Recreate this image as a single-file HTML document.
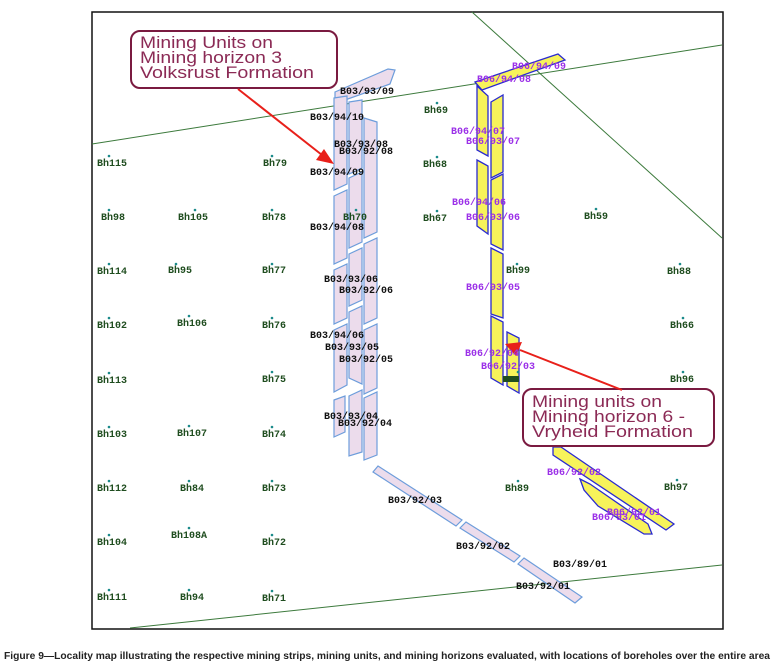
<!DOCTYPE html>
<html><head><meta charset="utf-8"><style>
html,body{margin:0;padding:0;background:#fff;width:774px;height:670px;overflow:hidden}
svg{display:block}
.b{font-family:"Liberation Mono",monospace;font-weight:bold;font-size:10px;fill:#111}
.g{font-family:"Liberation Mono",monospace;font-weight:bold;font-size:10px;fill:#1f4d1f}
.p{font-family:"Liberation Mono",monospace;font-weight:bold;font-size:10px;fill:#9b30e8}
.c{font-family:"Liberation Sans",sans-serif;font-size:16.5px;fill:#8b2a55}
.pk{fill:#ecdcec;stroke:#6d9ddb;stroke-width:1.2}
.y{fill:#f7f35a;stroke:#2a2ad0;stroke-width:1.3}
</style></head><body>
<svg width="774" height="670" xmlns="http://www.w3.org/2000/svg">
<rect x="92" y="12" width="631" height="617" fill="#fff" stroke="#111" stroke-width="1.5"/>
<line x1="92" y1="144" x2="722" y2="45" stroke="#3c7a3c" stroke-width="1"/>
<line x1="472" y1="12" x2="722" y2="238" stroke="#3c7a3c" stroke-width="1"/>
<line x1="130" y1="628" x2="722" y2="565" stroke="#3c7a3c" stroke-width="1"/>
<polygon class="pk" points="335,92 388,69 395,70 390,84 345,100 335,100"/>
<polygon class="pk" points="334,98 347,96 347,184 334,190"/>
<polygon class="pk" points="334,196 347,190 347,258 334,264"/>
<polygon class="pk" points="334,270 347,264 347,318 334,324"/>
<polygon class="pk" points="334,330 347,324 347,385 334,392"/>
<polygon class="pk" points="334,400 345,396 345,432 334,437"/>
<polygon class="pk" points="349,102 362,100 362,168 349,174"/>
<polygon class="pk" points="349,178 362,172 362,242 349,248"/>
<polygon class="pk" points="349,254 362,248 362,300 349,306"/>
<polygon class="pk" points="349,312 362,306 362,384 349,378"/>
<polygon class="pk" points="349,396 362,390 362,452 349,456"/>
<polygon class="pk" points="364,118 377,122 377,232 364,238"/>
<polygon class="pk" points="364,244 377,238 377,318 364,324"/>
<polygon class="pk" points="364,330 377,324 377,388 364,394"/>
<polygon class="pk" points="364,398 377,392 377,455 364,460"/>
<polygon class="pk" points="378,466 462,520 456,526 373,472"/>
<polygon class="pk" points="466,522 520,556 514,562 460,528"/>
<polygon class="pk" points="524,558 582,597 575,603 518,564"/>
<polygon class="y" points="475,82 558,54 565,60 482,90"/>
<polygon class="y" points="477,86 488,96 488,156 477,150"/>
<polygon class="y" points="477,160 488,166 488,234 477,226"/>
<polygon class="y" points="491,102 503,95 503,172 491,178"/>
<polygon class="y" points="491,180 503,174 503,250 491,244"/>
<polygon class="y" points="491,248 503,254 503,318 491,314"/>
<polygon class="y" points="491,316 503,322 503,385 491,378"/>
<polygon class="y" points="507,332 519,338 519,393 507,386"/>
<rect x="503" y="376" width="16" height="6" fill="#1f4d1f"/>
<polygon class="y" points="553,447 561,447 674,524 666,530 553,455"/>
<polygon class="y" points="580,479 590,484 648,524 652,534 644,534 598,506 584,490"/>
<rect x="131" y="31" width="206" height="57" rx="9" fill="#fff" stroke="#7a1a40" stroke-width="2"/>
<text class="c" x="140" y="48" textLength="133" lengthAdjust="spacingAndGlyphs">Mining Units on</text>
<text class="c" x="140" y="63" textLength="142" lengthAdjust="spacingAndGlyphs">Mining horizon 3</text>
<text class="c" x="140" y="78" textLength="174" lengthAdjust="spacingAndGlyphs">Volksrust Formation</text>
<rect x="523" y="389" width="191" height="57" rx="9" fill="#fff" stroke="#7a1a40" stroke-width="2"/>
<text class="c" x="532" y="407" textLength="130" lengthAdjust="spacingAndGlyphs">Mining units on</text>
<text class="c" x="532" y="422" textLength="153" lengthAdjust="spacingAndGlyphs">Mining horizon 6 -</text>
<text class="c" x="532" y="437" textLength="161" lengthAdjust="spacingAndGlyphs">Vryheid Formation</text>
<line x1="238" y1="89" x2="322" y2="155" stroke="#e8201a" stroke-width="2"/>
<polygon points="334,164 316,160 324,149" fill="#e8201a"/>
<line x1="622" y1="390" x2="520" y2="350" stroke="#e8201a" stroke-width="2"/>
<polygon points="505,344 522,342 516,356" fill="#e8201a"/>
<g fill="#1a8a8a">
<circle cx="109" cy="156" r="1.3"/><circle cx="272" cy="156" r="1.3"/><circle cx="437" cy="103" r="1.3"/><circle cx="437" cy="157" r="1.3"/>
<circle cx="109" cy="210" r="1.3"/><circle cx="195" cy="210" r="1.3"/><circle cx="272" cy="210" r="1.3"/><circle cx="356" cy="210" r="1.3"/><circle cx="437" cy="211" r="1.3"/><circle cx="596" cy="209" r="1.3"/>
<circle cx="109" cy="264" r="1.3"/><circle cx="176" cy="264" r="1.3"/><circle cx="272" cy="264" r="1.3"/><circle cx="517" cy="264" r="1.3"/><circle cx="680" cy="264" r="1.3"/>
<circle cx="109" cy="318" r="1.3"/><circle cx="189" cy="316" r="1.3"/><circle cx="272" cy="318" r="1.3"/><circle cx="683" cy="318" r="1.3"/>
<circle cx="109" cy="373" r="1.3"/><circle cx="272" cy="372" r="1.3"/><circle cx="683" cy="372" r="1.3"/><circle cx="518" cy="372" r="1.3"/>
<circle cx="109" cy="427" r="1.3"/><circle cx="189" cy="426" r="1.3"/><circle cx="272" cy="427" r="1.3"/>
<circle cx="109" cy="481" r="1.3"/><circle cx="189" cy="481" r="1.3"/><circle cx="272" cy="481" r="1.3"/><circle cx="518" cy="481" r="1.3"/><circle cx="677" cy="480" r="1.3"/>
<circle cx="109" cy="535" r="1.3"/><circle cx="189" cy="528" r="1.3"/><circle cx="272" cy="535" r="1.3"/>
<circle cx="109" cy="590" r="1.3"/><circle cx="189" cy="590" r="1.3"/><circle cx="272" cy="591" r="1.3"/>
</g>
<g>
<text class="g" x="97" y="166">Bh115</text><text class="g" x="263" y="166">Bh79</text><text class="g" x="424" y="113">Bh69</text><text class="g" x="423" y="167">Bh68</text>
<text class="g" x="101" y="220">Bh98</text><text class="g" x="178" y="220">Bh105</text><text class="g" x="262" y="220">Bh78</text><text class="g" x="343" y="220">Bh70</text><text class="g" x="423" y="221">Bh67</text><text class="g" x="584" y="219">Bh59</text>
<text class="g" x="97" y="274">Bh114</text><text class="g" x="168" y="273">Bh95</text><text class="g" x="262" y="273">Bh77</text><text class="g" x="506" y="273">Bh99</text><text class="g" x="667" y="274">Bh88</text>
<text class="g" x="97" y="328">Bh102</text><text class="g" x="177" y="326">Bh106</text><text class="g" x="262" y="328">Bh76</text><text class="g" x="670" y="328">Bh66</text>
<text class="g" x="97" y="383">Bh113</text><text class="g" x="262" y="382">Bh75</text><text class="g" x="670" y="382">Bh96</text>
<text class="g" x="97" y="437">Bh103</text><text class="g" x="177" y="436">Bh107</text><text class="g" x="262" y="437">Bh74</text>
<text class="g" x="97" y="491">Bh112</text><text class="g" x="180" y="491">Bh84</text><text class="g" x="262" y="491">Bh73</text><text class="g" x="505" y="491">Bh89</text><text class="g" x="664" y="490">Bh97</text>
<text class="g" x="97" y="545">Bh104</text><text class="g" x="171" y="538">Bh108A</text><text class="g" x="262" y="545">Bh72</text>
<text class="g" x="97" y="600">Bh111</text><text class="g" x="180" y="600">Bh94</text><text class="g" x="262" y="601">Bh71</text>
</g>
<text class="b" x="340" y="94">B03/93/09</text>
<text class="b" x="310" y="120">B03/94/10</text>
<text class="b" x="334" y="147">B03/93/08</text>
<text class="b" x="339" y="154">B03/92/08</text>
<text class="b" x="310" y="175">B03/94/09</text>
<text class="b" x="310" y="230">B03/94/08</text>
<text class="b" x="324" y="282">B03/93/06</text>
<text class="b" x="339" y="293">B03/92/06</text>
<text class="b" x="310" y="338">B03/94/06</text>
<text class="b" x="325" y="350">B03/93/05</text>
<text class="b" x="339" y="362">B03/92/05</text>
<text class="b" x="324" y="419">B03/93/04</text>
<text class="b" x="338" y="426">B03/92/04</text>
<text class="b" x="388" y="503">B03/92/03</text>
<text class="b" x="456" y="549">B03/92/02</text>
<text class="b" x="553" y="567">B03/89/01</text>
<text class="b" x="516" y="589">B03/92/01</text>
<text class="p" x="512" y="69">B06/94/09</text>
<text class="p" x="477" y="82">B06/94/08</text>
<text class="p" x="451" y="134">B06/94/07</text>
<text class="p" x="466" y="144">B06/93/07</text>
<text class="p" x="452" y="205">B06/94/06</text>
<text class="p" x="466" y="220">B06/93/06</text>
<text class="p" x="466" y="290">B06/93/05</text>
<text class="p" x="465" y="356">B06/92/04</text>
<text class="p" x="481" y="369">B06/92/03</text>
<text class="p" x="547" y="475">B06/92/02</text>
<text class="p" x="607" y="515">B06/92/01</text>
<text class="p" x="592" y="520">B06/93/01</text>
<text x="4" y="659" font-family="Liberation Sans Narrow,Liberation Sans,sans-serif" font-size="10" font-weight="bold" fill="#222" textLength="766" lengthAdjust="spacingAndGlyphs">Figure 9—Locality map illustrating the respective mining strips, mining units, and mining horizons evaluated, with locations of boreholes over the entire area</text>
</svg>
</body></html>
